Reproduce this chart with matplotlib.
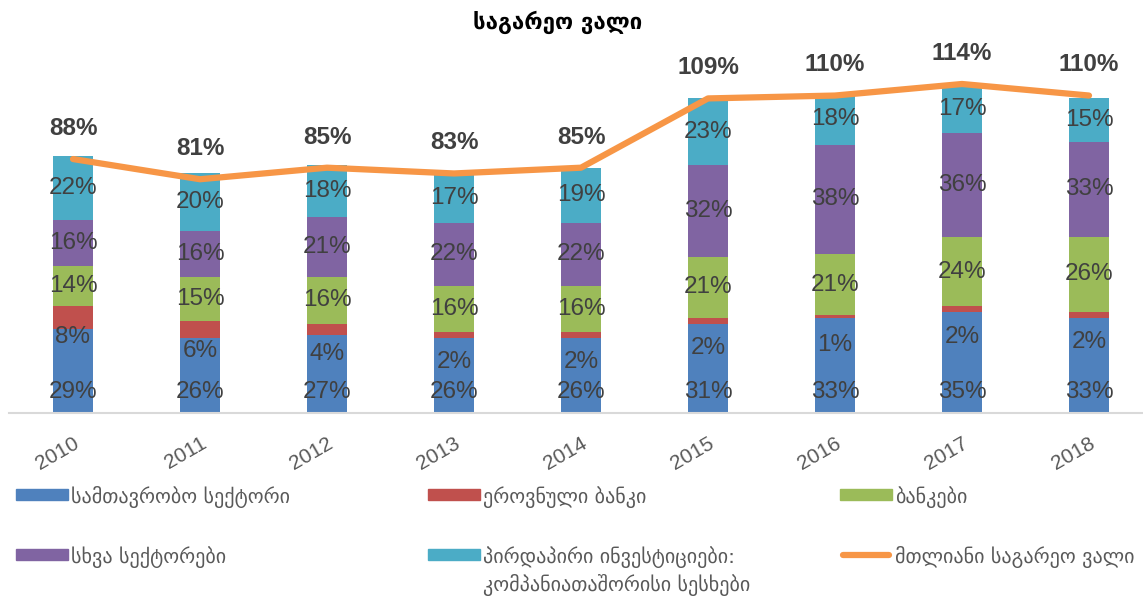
import matplotlib
matplotlib.use("Agg")
import matplotlib.pyplot as plt
from matplotlib.patches import Rectangle
from matplotlib.lines import Line2D
import numpy as np

plt.rcParams['font.family'] = ['Liberation Sans', 'DejaVu Sans']

years = ['2010', '2011', '2012', '2013', '2014', '2015', '2016', '2017', '2018']
government = [29, 26, 27, 26, 26, 31, 33, 35, 33]
national_bank = [8, 6, 4, 2, 2, 2, 1, 2, 2]
banks = [14, 15, 16, 16, 16, 21, 21, 24, 26]
other_sectors = [16, 16, 21, 22, 22, 32, 38, 36, 33]
fdi_loans = [22, 20, 18, 17, 19, 23, 18, 17, 15]
total_debt = [88, 81, 85, 83, 85, 109, 110, 114, 110]

title = 'საგარეო ვალი'
series_labels = ['სამთავრობო სექტორი', 'ეროვნული ბანკი', 'ბანკები',
                 'სხვა სექტორები', 'პირდაპირი ინვესტიციები:\nკომპანიათაშორისი სესხები']
line_label = 'მთლიანი საგარეო ვალი'
colors = ['#4F81BD', '#C0504D', '#9BBB59', '#8064A2', '#4BACC6']
line_color = '#F79646'

W, H = 1143, 599
fig = plt.figure(figsize=(W / 100, H / 100), dpi=100)
ax = fig.add_axes([9.5 / W, (H - 413) / H, 1143 / W, 413 / H])
ax.set_xlim(-0.5, len(years) - 0.5)
ax.set_ylim(0, 413 / 2.886)

x = np.arange(len(years))
series = [government, national_bank, banks, other_sectors, fdi_loans]
bottom = np.zeros(len(years))
label_color = '#404040'
for i, (vals, c) in enumerate(zip(series, colors)):
    vals = np.array(vals, dtype=float)
    ax.bar(x, vals, width=0.315, bottom=bottom, color=c, edgecolor='none', zorder=2)
    for xi, v, b in zip(x, vals, bottom):
        if i == 0:
            ly = 7.3
        elif i == 1:
            ly = b + v - 10.5
        else:
            ly = b + v / 2
        ax.text(xi, ly, f'{int(v)}%', ha='center', va='center', fontsize=17.5,
                color=label_color, zorder=4)
    bottom += vals

ax.plot(x, total_debt, color=line_color, lw=4.5, solid_capstyle='round',
        solid_joinstyle='round', zorder=3)
for xi, v in zip(x, total_debt):
    ax.annotate(f'{v}%', (xi, v), xytext=(0, 22), textcoords='offset points',
                ha='center', va='center', fontsize=17.5, fontweight='bold',
                color=label_color, zorder=4)

for s in ['top', 'right', 'left']:
    ax.spines[s].set_visible(False)
ax.spines['bottom'].set_color('#D9D9D9')
ax.spines['bottom'].set_linewidth(1.5)
ax.set_yticks([])
ax.set_xticks(x)
ax.set_xticklabels(years, rotation=30, ha='right', va='top', rotation_mode='anchor',
                   fontsize=15, color='#595959')
ax.tick_params(axis='x', length=0, pad=15)
ax.set_facecolor('none')

fig.text(558 / W, 1 - 22 / H, title, ha='center', va='center', fontsize=16,
         fontweight='bold', color='black', family='DejaVu Sans')

# legend drawn manually
leg_cols = [16, 428, 840]
leg_rows = [494.5, 554.5]
entries = [(series_labels[k], colors[k], 'patch') for k in range(5)] + [(line_label, line_color, 'line')]
for k, (lab, c, kind) in enumerate(entries):
    cx = leg_cols[k % 3]
    cy = leg_rows[k // 3]
    if kind == 'patch':
        fig.patches.append(Rectangle((cx / W, 1 - (cy + 5.5) / H), 52 / W, 11 / H,
                                     transform=fig.transFigure, color=c))
    else:
        fig.lines.append(Line2D([(cx + 3) / W, (cx + 49) / W], [1 - cy / H, 1 - cy / H],
                                transform=fig.transFigure, color=c, lw=4.5,
                                solid_capstyle='round'))
    for j, part in enumerate(lab.split('\n')):
        fig.text((cx + 55) / W, 1 - (cy + 3 + j * 27) / H, part, ha='left', va='center',
                 fontsize=14.5, color='#595959', family='DejaVu Sans')

fig.savefig('out.png', dpi=100)
